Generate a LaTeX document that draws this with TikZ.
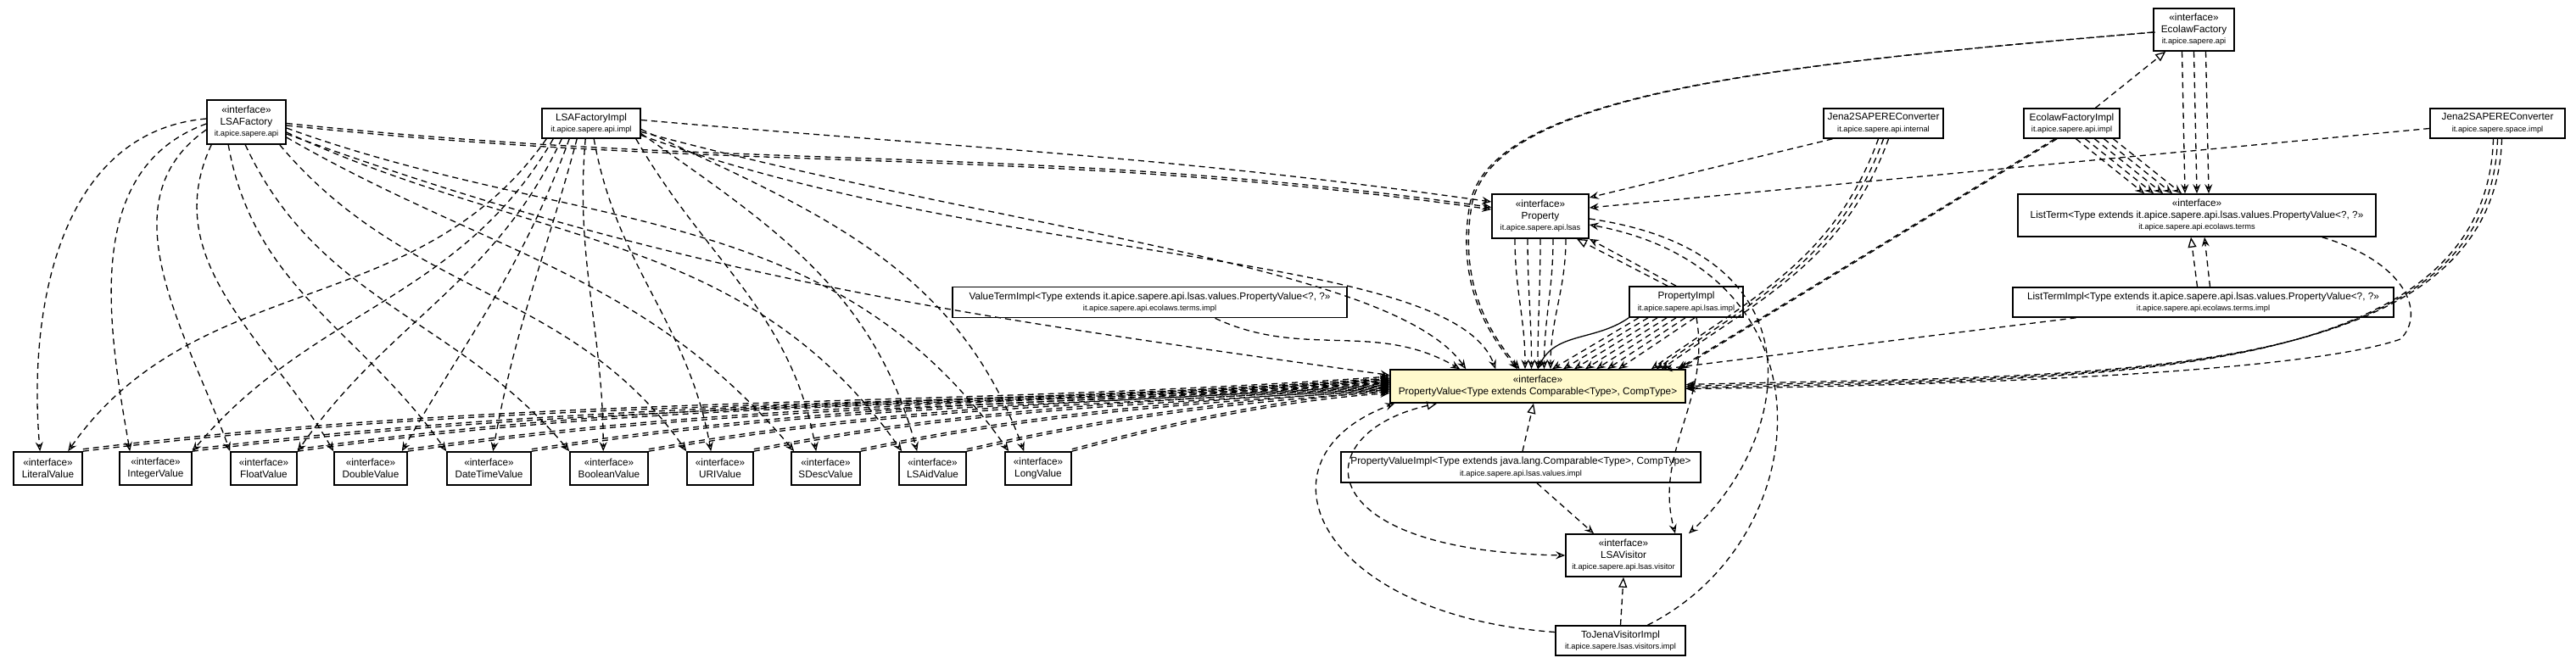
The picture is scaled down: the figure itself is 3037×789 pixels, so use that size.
\documentclass[tikz,border=0pt]{standalone}
\usepackage{fontspec}
\setmainfont{Liberation Sans}
\usetikzlibrary{arrows.meta}

\definecolor{focusfill}{RGB}{255,250,205}
\newcommand{\pkgfont}{\fontsize{9.3}{11}\selectfont}
\newcommand{\iface}[2]{«interface»\\#1\\{\pkgfont #2}}
\newcommand{\klass}[2]{#1\\{\pkgfont #2}}
\newcommand{\valface}[1]{«interface»\\#1}

\begin{document}
\begin{tikzpicture}[
    x=1pt, y=-1pt,
    font=\fontsize{11.8}{13.6}\selectfont,
    dtip/.tip={Stealth[open, length=11pt, width=9pt, inset=4pt, line width=1.3pt]},
    rtip/.tip={Triangle[open, length=12pt, width=10pt, line width=1.3pt]},
    box/.style={draw, line width=1.6pt, fill=white, align=center, inner sep=2pt},
    vbox/.style={box, minimum height=39pt},
    dep/.style={line width=1.3pt, dash pattern=on 7pt off 5pt, -dtip},
    real/.style={line width=1.3pt, dash pattern=on 7pt off 5pt, -rtip},
    uses/.style={line width=1.3pt, -dtip}
]
\useasboundingbox (0,0) rectangle (3037,789);

\node[box, minimum width=93pt, minimum height=52pt] (lsaf) at (290.5,144) {\iface{LSAFactory}{it.apice.sapere.api}};
\node[box, minimum width=116pt, minimum height=35pt] (lsafi) at (697,145.5) {\klass{LSAFactoryImpl}{it.apice.sapere.api.impl}};
\node[box, minimum width=95pt, minimum height=50pt] (ef) at (2586.5,35) {\iface{EcolawFactory}{it.apice.sapere.api}};
\node[box, minimum width=141pt, minimum height=35pt] (jint) at (2220.5,145.5) {\klass{Jena2SAPEREConverter}{it.apice.sapere.api.internal}};
\node[box, minimum width=113pt, minimum height=35pt] (efi) at (2442.5,145.5) {\klass{EcolawFactoryImpl}{it.apice.sapere.api.impl}};
\node[box, minimum width=159pt, minimum height=35pt] (jsp) at (2944.5,145.5) {\klass{Jena2SAPEREConverter}{it.apice.sapere.space.impl}};
\node[box, minimum width=422pt, minimum height=50pt] (lt) at (2590,254) {\iface{ListTerm<Type extends it.apice.sapere.api.lsas.values.PropertyValue<?, ?>>}{it.apice.sapere.api.ecolaws.terms}};
\node[box, minimum width=449pt, minimum height=35pt] (lti) at (2597.5,356.5) {\klass{ListTermImpl<Type extends it.apice.sapere.api.lsas.values.PropertyValue<?, ?>>}{it.apice.sapere.api.ecolaws.terms.impl}};
\node[box, minimum width=114pt, minimum height=52pt] (prop) at (1816,255) {\iface{Property}{it.apice.sapere.api.lsas}};
\node[box, minimum width=134pt, minimum height=36pt] (pi) at (1988,356) {\klass{PropertyImpl}{it.apice.sapere.api.lsas.impl}};
\node[box, minimum width=465pt, minimum height=36pt] (vti) at (1355.5,356.5) {\klass{ValueTermImpl<Type extends it.apice.sapere.api.lsas.values.PropertyValue<?, ?>>}{it.apice.sapere.api.ecolaws.terms.impl}};
\node[box, fill=focusfill, minimum width=348pt, minimum height=39pt] (pv) at (1813,455.5) {\valface{PropertyValue<Type extends Comparable<Type>, CompType>}};
\node[box, minimum width=424pt, minimum height=36pt] (pvi) at (1793,551) {\klass{PropertyValueImpl<Type extends java.lang.Comparable<Type>, CompType>}{it.apice.sapere.api.lsas.values.impl}};
\node[box, minimum width=136pt, minimum height=50pt] (lv) at (1914,655) {\iface{LSAVisitor}{it.apice.sapere.api.lsas.visitor}};
\node[box, minimum width=153pt, minimum height=35pt] (tj) at (1910.5,755.5) {\klass{ToJenaVisitorImpl}{it.apice.sapere.lsas.visitors.impl}};

\node[vbox, minimum width=81pt] (lit) at (56.5,552.5) {\valface{LiteralValue}};
\node[vbox, minimum width=85pt] (int) at (183.5,552.5) {\valface{IntegerValue}};
\node[vbox, minimum width=78pt] (flt) at (311,552.5) {\valface{FloatValue}};
\node[vbox, minimum width=86pt] (dbl) at (437,552.5) {\valface{DoubleValue}};
\node[vbox, minimum width=99pt] (dtm) at (576.5,552.5) {\valface{DateTimeValue}};
\node[vbox, minimum width=92pt] (bool) at (718,552.5) {\valface{BooleanValue}};
\node[vbox, minimum width=78pt] (uri) at (849,552.5) {\valface{URIValue}};
\node[vbox, minimum width=81pt] (sdesc) at (973.5,552.5) {\valface{SDescValue}};
\node[vbox, minimum width=79pt] (aid) at (1099.5,552.5) {\valface{LSAidValue}};
\node[vbox, minimum width=78pt] (lng) at (1224,552.5) {\valface{LongValue}};

% factory interface and its implementation towards the value types
\draw[dep] ([yshift=4pt]lsaf.west) to[out=185,in=95] ([xshift=32pt]lit.north west);
\draw[dep] ([yshift=-2pt]lsaf.west) to[out=200,in=100] ([xshift=13pt]int.north west);
\draw[dep] ([yshift=-9pt]lsaf.west) to[out=215,in=110] (flt.north west);
\draw[dep] ([xshift=6pt]lsaf.south west) to[out=245,in=120] (dbl.north west);
\draw[dep] ([xshift=26pt]lsaf.south west) to[out=280,in=125] (dtm.north west);
\draw[dep] ([xshift=46pt]lsaf.south west) to[out=295,in=130] (bool.north west);
\draw[dep] ([xshift=-8pt]lsaf.south east) to[out=310,in=125] (uri.north west);
\draw[dep] ([yshift=-18pt]lsaf.east) to[out=330,in=130] ([xshift=4pt]sdesc.north west);
\draw[dep] ([yshift=-12pt]lsaf.east) to[out=335,in=125] ([xshift=4pt]aid.north west);
\draw[dep] ([yshift=-7pt]lsaf.east) to[out=340,in=125] ([xshift=5pt]lng.north west);

\draw[dep] ([xshift=6pt]lsafi.south west) to[out=235,in=55] ([xshift=65pt]lit.north west);
\draw[dep] ([xshift=14pt]lsafi.south west) to[out=240,in=50] (int.north east);
\draw[dep] ([xshift=24pt]lsafi.south west) to[out=245,in=55] (flt.north east);
\draw[dep] ([xshift=33pt]lsafi.south west) to[out=250,in=60] ([xshift=-7pt]dbl.north east);
\draw[dep] ([xshift=42pt]lsafi.south west) to[out=255,in=80] ([xshift=55pt]dtm.north west);
\draw[dep] ([xshift=52pt]lsafi.south west) to[out=265,in=90] ([xshift=40pt]bool.north west);
\draw[dep] ([xshift=62pt]lsafi.south west) to[out=280,in=100] ([xshift=29pt]uri.north west);
\draw[dep] ([xshift=-6pt]lsafi.south east) to[out=300,in=100] ([xshift=30pt]sdesc.north west);
\draw[dep] ([yshift=-12pt]lsafi.east) to[out=325,in=105] ([xshift=22pt]aid.north west);
\draw[dep] ([yshift=-7pt]lsafi.east) to[out=335,in=110] ([xshift=23pt]lng.north west);

\foreach \v/\k/\a/\r in {lit/0/7/540, int/1/7/500, flt/2/8/460, dbl/3/8/420, dtm/4/9/370, bool/5/10/320, uri/6/11/270, sdesc/7/12/220, aid/8/13/180, lng/9/15/130}
  \foreach \s in {0,2.5}
    \draw[dep, transform canvas={yshift=\s pt}] (\v.north east) .. controls +(\a:\r pt) and +(184:\r pt) .. ([yshift=(9-1.9*\k)*1pt]pv.west);

\foreach \s in {0,2.5}
  \draw[dep, transform canvas={yshift=\s pt}] ([yshift=-4pt]lsaf.east) .. controls +(-6:550pt) and +(172:550pt) .. ([yshift=8pt]prop.west);
\draw[dep] ([yshift=-14pt]lsaf.east) .. controls +(-20:500pt) and +(172:500pt) .. ([yshift=13pt]pv.west);
\draw[dep] ([yshift=4pt]lsafi.east) .. controls +(-5:400pt) and +(172:400pt) .. ([yshift=17pt]prop.west);
\draw[dep] ([yshift=-10pt]lsafi.east) .. controls +(-15:450pt) and +(125:150pt) .. ([xshift=90pt]pv.north west);
\draw[dep] ([yshift=-14pt]lsafi.east) .. controls +(-20:450pt) and +(110:150pt) .. ([xshift=125pt]pv.north west);
\draw[dep] ([xshift=77pt]vti.south) to[out=-25,in=150] ([xshift=83pt]pv.north west);

\foreach \d in {-30,-15,0,15,30}
  \draw[dep] ([xshift=\d pt]prop.south) to[out=270,in=90] ([xshift=\d*0.5pt]pv.north);

% ecolaw side
\foreach \s in {0,2.5}
  \draw[dep, transform canvas={xshift=\s pt}] ([yshift=-3pt]ef.west) .. controls (2100,75) and (1760,110) .. (1733,240) .. controls (1715,340) and (1760,400) .. ([xshift=-24pt]pv.north);
\foreach \d in {-14,0,14}
  \draw[dep] ([xshift=\d pt]ef.south) -- ([xshift=\d pt]lt.north);
\foreach \i in {0,...,4}
  \draw[dep] ([xshift=5pt+11pt*\i]efi.south) -- ([xshift=-62pt+11pt*\i]lt.north);
\draw[real] ([xshift=28pt]efi.north) -- ([xshift=15pt]ef.south west);
\foreach \s in {0,2.5}
  \draw[dep, transform canvas={xshift=\s pt}] ([xshift=-20pt]efi.south) -- ([xshift=-10pt]pv.north east);

\foreach \d in {-6,0,6}
  \draw[dep] ([xshift=\d pt]jint.south) to[out=250,in=35] ([xshift=-35pt+\d pt]pv.north east);
\draw[dep] ([xshift=-60pt]jint.south) -- ([yshift=22pt]prop.east);
\draw[dep] ([yshift=-6pt]jsp.west) -- ([yshift=10pt]prop.east);
\foreach \d in {-5,0,5}
  \draw[dep] ([xshift=\d pt]jsp.south) .. controls +(-9,297) and +(463,-12) .. ([yshift=\d*0.4pt]pv.east);
\draw[dep] ([xshift=-64pt]lt.south east) .. controls +(100,30) and +(30,-30) .. (2830,400) .. controls +(-100,35) and +(400,-5) .. ([yshift=-3pt]pv.east);

\draw[real] ([xshift=-7pt]lti.north) -- ([xshift=-7pt]lt.south);
\draw[dep] ([xshift=8pt]lti.north) -- ([xshift=9pt]lt.south);
\draw[dep] ([xshift=-150pt]lti.south) -- ([xshift=-27pt]pv.north east);

% property implementation and visitors
\draw[real] ([xshift=-22pt]pi.north) -- ([xshift=43pt]prop.south);
\draw[dep] ([xshift=-12pt]pi.north) -- (prop.south east);
\draw[uses] (pi.south west) to[out=215,in=65] (pv.north);
\foreach \i in {0,...,6}
  \draw[dep] ([xshift=-56pt+11pt*\i]pi.south) -- ([xshift=17pt+13pt*\i]pv.north);
\draw[dep] ([xshift=12pt]pi.south) to[out=280,in=105] ([xshift=61pt]lv.north);
\draw[dep] ([yshift=-3pt]prop.east) .. controls +(280,40) and +(120,-110) .. ([xshift=77pt]lv.north);
\draw[dep] ([xshift=32pt]tj.north) .. controls +(200,-100) and +(297,55) .. ([yshift=-10pt]prop.east);
\draw[real] (tj.north) -- (lv.south);
\draw[dep] ([yshift=10pt]tj.west) .. controls +(-280,-20) and +(-175,65) .. ([xshift=6pt]pv.south west);
\draw[dep, rtip-dtip] ([xshift=56pt]pv.south west) .. controls +(-155,35) and +(-306,-5) .. (lv.west);
\draw[real] ([xshift=2pt]pvi.north) -- ([xshift=-5pt]pv.south);
\draw[dep] ([xshift=19pt]pvi.south) -- ([xshift=-35pt]lv.north);
\end{tikzpicture}
\end{document}
